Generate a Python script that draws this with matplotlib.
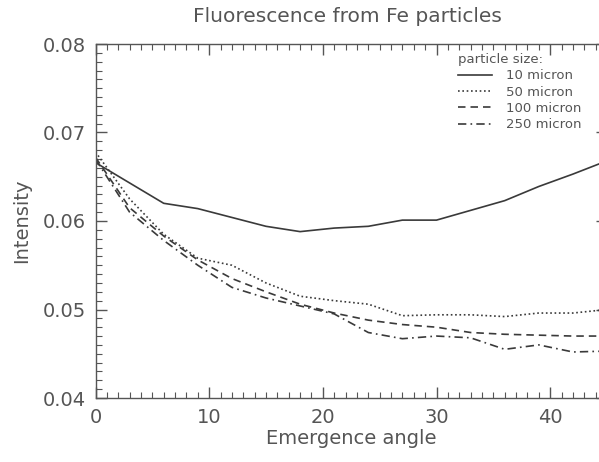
import numpy as np
import matplotlib
matplotlib.use("Agg")
import matplotlib.pyplot as plt
from matplotlib.ticker import MultipleLocator

# emergence angle (deg)
angle = [0, 3, 6, 9, 12, 15, 18, 21, 24, 27, 30, 33, 36, 39, 42, 45]

# intensity per particle size
i10 = [0.0666, 0.0643, 0.0620, 0.0614, 0.0604, 0.0594, 0.0588, 0.0592,
       0.0594, 0.0601, 0.0601, 0.0612, 0.0623, 0.0639, 0.0653, 0.0668]
i50 = [0.0678, 0.0625, 0.0585, 0.0558, 0.0550, 0.0530, 0.0515, 0.0510,
       0.0506, 0.0493, 0.0494, 0.0494, 0.0492, 0.0496, 0.0496, 0.0500]
i100 = [0.0672, 0.0615, 0.0583, 0.0556, 0.0535, 0.0520, 0.0506, 0.0496,
        0.0488, 0.0483, 0.0480, 0.0474, 0.0472, 0.0471, 0.0470, 0.0470]
i250 = [0.0670, 0.0610, 0.0578, 0.0550, 0.0525, 0.0513, 0.0504, 0.0495,
        0.0474, 0.0467, 0.0470, 0.0468, 0.0455, 0.0460, 0.0452, 0.0453]

labels = ["10 micron", "50 micron", "100 micron", "250 micron"]
styles = ["-", (0, (1, 1.6)), (0, (4.5, 3)), (0, (5, 2.5, 1, 2.5))]

W, H = 599, 462
fig = plt.figure(figsize=(W / 100, H / 100), dpi=100)
# axes right edge runs past the picture edge (cropped original)
x0, x1, ytop, ybot = 95.5, 607, 44, 398
ax = fig.add_axes([x0 / W, 1 - ybot / H, (x1 - x0) / W, (ybot - ytop) / H])

col = "#3a3a3a"
txt = "#555555"
for y, ls, lab in zip([i10, i50, i100, i250], styles, labels):
    ax.plot(angle, y, linestyle=ls, color=col, lw=1.2, label=lab)

ax.set_xlim(0, 45)
ax.set_ylim(0.04, 0.08)
ax.xaxis.set_major_locator(MultipleLocator(10))
ax.xaxis.set_minor_locator(MultipleLocator(1))
ax.yaxis.set_major_locator(MultipleLocator(0.01))
ax.yaxis.set_minor_locator(MultipleLocator(0.001))
ax.yaxis.set_major_formatter(plt.FuncFormatter(lambda v, p: "%.2f" % v))
ax.tick_params(which="both", direction="in", top=True, right=True,
               color="#555555", labelcolor=txt, labelsize=14)
ax.tick_params(which="major", length=8, width=1, pad=7)
ax.tick_params(which="minor", length=4, width=0.8)
for s in ax.spines.values():
    s.set_color("#555555")
    s.set_linewidth(1.0)

ax.set_xlabel("Emergence angle", fontsize=14, color=txt, labelpad=2)
ax.set_ylabel("Intensity", fontsize=14, color=txt, labelpad=8)
fig.text(347 / W, 1 - 17 / H, "Fluorescence from Fe particles", ha="center",
         va="center", fontsize=14.5, color=txt)

leg = ax.legend(title="particle size:", loc="upper left",
                bbox_to_anchor=(458 / W, 1 - 53 / H), bbox_transform=fig.transFigure,
                frameon=False, fontsize=9.5, title_fontsize=9.5,
                handlelength=2.6, handletextpad=1.0, labelspacing=0.25,
                borderaxespad=0, borderpad=0)
leg._legend_box.align = "left"
for t in leg.get_texts():
    t.set_color(txt)
leg.get_title().set_color(txt)

fig.savefig("out.png", dpi=100)
